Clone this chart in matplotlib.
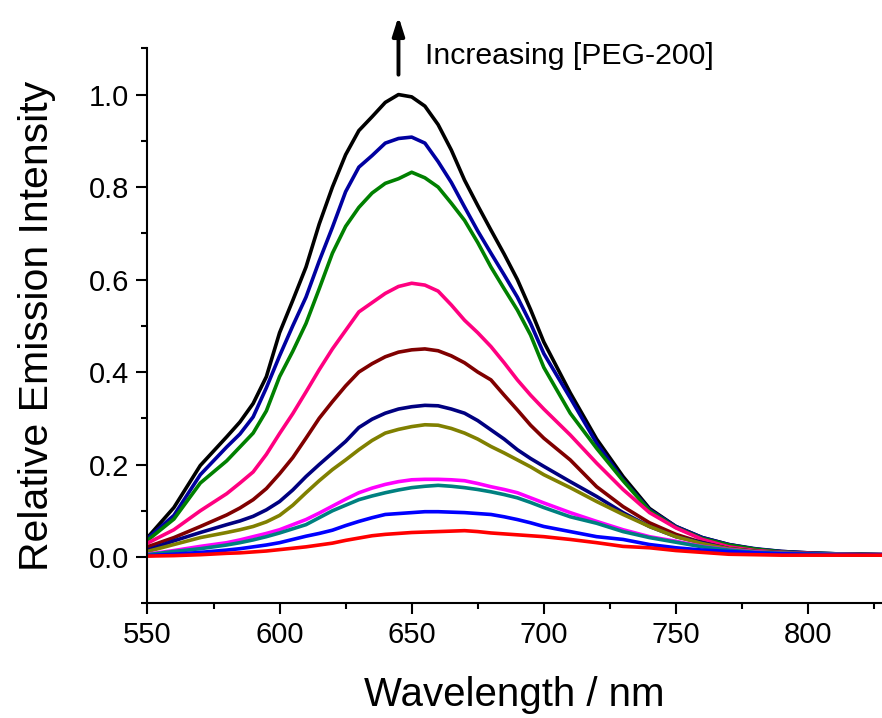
import numpy as np
import matplotlib.pyplot as plt
from matplotlib.ticker import MultipleLocator

plt.rcParams['font.family'] = ['Liberation Sans', 'DejaVu Sans']

wl = [550, 560, 570, 580, 585, 590, 595, 600, 605, 610, 615, 620, 625, 630, 635, 640, 645, 650, 655, 660, 665,
      670, 675, 680, 685, 690, 695, 700, 710, 720, 730, 740, 750, 760, 770, 780, 790, 800, 810, 820, 828]

black = [0.042, 0.107, 0.198, 0.26, 0.292, 0.332, 0.39, 0.485, 0.555, 0.627, 0.72, 0.80, 0.87, 0.922, 0.952, 0.983, 1.0, 0.995, 0.975, 0.935, 0.88,
         0.815, 0.76, 0.707, 0.655, 0.60, 0.535, 0.465, 0.355, 0.255, 0.174, 0.105, 0.066, 0.042, 0.027, 0.017, 0.012, 0.009, 0.007, 0.006, 0.005]
royal = [0.04, 0.09, 0.178, 0.238, 0.266, 0.303, 0.366, 0.435, 0.50, 0.562, 0.64, 0.713, 0.79, 0.843, 0.868, 0.895, 0.905, 0.908, 0.895, 0.855, 0.81,
         0.757, 0.705, 0.657, 0.61, 0.562, 0.505, 0.44, 0.344, 0.246, 0.167, 0.102, 0.066, 0.042, 0.027, 0.018, 0.012, 0.009, 0.007, 0.006, 0.005]
green = [0.036, 0.082, 0.16, 0.208, 0.238, 0.268, 0.316, 0.39, 0.445, 0.505, 0.58, 0.657, 0.715, 0.756, 0.787, 0.808, 0.818, 0.832, 0.82, 0.80, 0.765,
         0.728, 0.68, 0.627, 0.58, 0.534, 0.48, 0.41, 0.311, 0.235, 0.165, 0.10, 0.064, 0.04, 0.026, 0.017, 0.011, 0.008, 0.007, 0.006, 0.005]
pink = [0.03, 0.059, 0.10, 0.137, 0.16, 0.184, 0.222, 0.267, 0.31, 0.357, 0.405, 0.45, 0.49, 0.53, 0.55, 0.57, 0.585, 0.592, 0.588, 0.575, 0.545,
        0.512, 0.485, 0.455, 0.42, 0.383, 0.35, 0.32, 0.264, 0.203, 0.146, 0.096, 0.063, 0.038, 0.022, 0.014, 0.01, 0.008, 0.006, 0.005, 0.005]
wine = [0.022, 0.042, 0.066, 0.091, 0.106, 0.124, 0.148, 0.18, 0.215, 0.257, 0.30, 0.336, 0.37, 0.40, 0.418, 0.433, 0.443, 0.448, 0.45, 0.446, 0.435,
        0.42, 0.40, 0.383, 0.35, 0.318, 0.285, 0.257, 0.21, 0.152, 0.109, 0.074, 0.049, 0.031, 0.018, 0.012, 0.009, 0.007, 0.006, 0.005, 0.005]
navy = [0.015, 0.035, 0.053, 0.07, 0.078, 0.088, 0.102, 0.12, 0.145, 0.174, 0.20, 0.225, 0.25, 0.28, 0.298, 0.311, 0.32, 0.325, 0.328, 0.327, 0.32,
        0.311, 0.295, 0.275, 0.255, 0.232, 0.213, 0.196, 0.163, 0.131, 0.096, 0.066, 0.044, 0.031, 0.018, 0.012, 0.009, 0.007, 0.006, 0.005, 0.005]
olive = [0.012, 0.027, 0.042, 0.053, 0.059, 0.066, 0.076, 0.09, 0.112, 0.139, 0.165, 0.189, 0.21, 0.232, 0.252, 0.268, 0.276, 0.282, 0.286, 0.285, 0.278,
         0.268, 0.255, 0.239, 0.225, 0.21, 0.195, 0.178, 0.15, 0.12, 0.092, 0.066, 0.044, 0.029, 0.018, 0.012, 0.009, 0.007, 0.006, 0.005, 0.005]
magenta = [0.006, 0.014, 0.023, 0.031, 0.037, 0.044, 0.051, 0.059, 0.07, 0.081, 0.095, 0.11, 0.125, 0.139, 0.149, 0.157, 0.163, 0.167, 0.168, 0.168, 0.167,
           0.165, 0.159, 0.152, 0.146, 0.139, 0.128, 0.117, 0.096, 0.077, 0.059, 0.044, 0.034, 0.023, 0.016, 0.011, 0.008, 0.007, 0.006, 0.005, 0.005]
teal = [0.005, 0.012, 0.018, 0.026, 0.031, 0.037, 0.044, 0.052, 0.061, 0.07, 0.085, 0.10, 0.112, 0.124, 0.132, 0.139, 0.145, 0.15, 0.153, 0.155, 0.153,
        0.15, 0.146, 0.141, 0.135, 0.128, 0.118, 0.107, 0.087, 0.073, 0.055, 0.042, 0.032, 0.022, 0.015, 0.01, 0.008, 0.007, 0.006, 0.005, 0.005]
blue = [0.003, 0.006, 0.01, 0.015, 0.018, 0.022, 0.026, 0.031, 0.038, 0.045, 0.051, 0.058, 0.068, 0.077, 0.085, 0.092, 0.094, 0.096, 0.098, 0.098, 0.097,
        0.096, 0.094, 0.092, 0.087, 0.081, 0.074, 0.066, 0.055, 0.044, 0.038, 0.027, 0.02, 0.015, 0.012, 0.009, 0.007, 0.006, 0.005, 0.005, 0.005]
red = [0.002, 0.003, 0.005, 0.008, 0.009, 0.011, 0.013, 0.016, 0.019, 0.022, 0.026, 0.030, 0.036, 0.041, 0.046, 0.049, 0.051, 0.053, 0.054, 0.055, 0.056,
       0.057, 0.055, 0.052, 0.05, 0.048, 0.046, 0.044, 0.038, 0.031, 0.023, 0.02, 0.014, 0.01, 0.006, 0.005, 0.004, 0.004, 0.004, 0.004, 0.004]

spectra = [black, royal, green, pink, wine, navy, olive, magenta, teal, blue, red]
colors = ['#000000', '#0000A0', '#008000', '#FF0080', '#800000', '#000080',
          '#808000', '#FF00FF', '#008080', '#0000FF', '#FF0000']

fig = plt.figure(figsize=(8.82, 7.18), dpi=100)
ax = fig.add_axes([0.1672, 0.1598, 0.8328, 0.7729])

for s, c in zip(spectra, colors):
    ax.plot(wl, s, color=c, lw=2.6, solid_joinstyle='round')

ax.set_xlim(550, 828)
ax.set_ylim(-0.1, 1.1)
ax.xaxis.set_major_locator(MultipleLocator(50))
ax.xaxis.set_minor_locator(MultipleLocator(25))
ax.yaxis.set_major_locator(MultipleLocator(0.2))
ax.yaxis.set_minor_locator(MultipleLocator(0.1))
ax.yaxis.set_major_formatter(plt.FormatStrFormatter('%.1f'))
ax.spines['top'].set_visible(False)
ax.spines['right'].set_visible(False)
for sp in ['left', 'bottom']:
    ax.spines[sp].set_linewidth(1.5)
ax.tick_params(which='major', direction='out', length=8, width=1.5, labelsize=21, pad=5)
ax.tick_params(which='minor', direction='out', length=4.5, width=1.5)

ax.set_xlabel('Wavelength / nm', fontsize=29, labelpad=19)
ax.set_ylabel('Relative Emission Intensity', fontsize=29.5, labelpad=24)

ax.annotate('', xy=(645, 1.175), xytext=(645, 1.037), annotation_clip=False,
            arrowprops=dict(arrowstyle='-|>,head_width=0.35,head_length=1.1', color='black', lw=2.8))
ax.text(655, 1.0665, 'Increasing [PEG-200]', fontsize=21.8, va='baseline', ha='left')

fig.savefig('out.png', dpi=100)
